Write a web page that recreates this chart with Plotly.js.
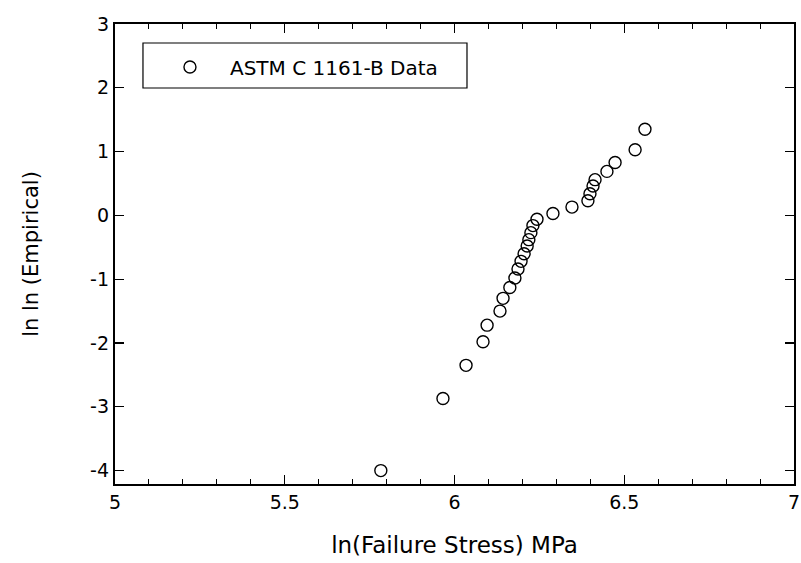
<!DOCTYPE html>
<html>
<head>
<meta charset="utf-8">
<script src="https://cdn.plot.ly/plotly-3.0.1.min.js"></script>
<style>html,body{margin:0;padding:0;background:#fff;}#chart{width:801px;height:563px;}</style>
</head>
<body>
<div id="chart"></div>
<script>
const seriesName = "ASTM C 1161-B Data";
const lnStress = [5.783, 5.966, 6.034, 6.084, 6.096, 6.134, 6.143, 6.163, 6.178, 6.187, 6.196, 6.205, 6.214, 6.219, 6.225, 6.231, 6.243, 6.290, 6.346, 6.393, 6.399, 6.408, 6.414, 6.449, 6.473, 6.532, 6.561];
const lnLnEmpirical = [-4.00, -2.87, -2.35, -1.98, -1.72, -1.50, -1.30, -1.13, -0.98, -0.84, -0.72, -0.60, -0.48, -0.38, -0.27, -0.16, -0.06, 0.03, 0.13, 0.23, 0.34, 0.46, 0.56, 0.69, 0.83, 1.03, 1.35];
const xTicks = [5, 5.5, 6, 6.5, 7];
const yTicks = [-4, -3, -2, -1, 0, 1, 2, 3];

const fam = "DejaVu Sans, Liberation Sans, Arial, sans-serif";
const f = (size) => ({family: fam, size: size, color: "#000"});

const trace = {
  type: "scatter",
  mode: "markers",
  name: seriesName,
  x: lnStress,
  y: lnLnEmpirical,
  marker: {symbol: "circle-open", size: 12, color: "#000", line: {width: 1.4, color: "#000"}},
  showlegend: true
};

const layout = {
  width: 801, height: 563,
  margin: {l: 115, r: 7, t: 24, b: 79},
  paper_bgcolor: "#fff", plot_bgcolor: "#fff",
  font: f(19),
  showlegend: true,
  legend: {
    x: 0.0515, y: 0.9065, xanchor: "left", yanchor: "middle",
    itemwidth: 70,
    borderwidth: 0, bgcolor: "rgba(0,0,0,0)",
    font: f(20)
  },
  shapes: [{
    type: "rect", xref: "paper", yref: "paper",
    x0: 0.0412, x1: 0.5184, y0: 0.8609, y1: 0.9587,
    line: {color: "#000", width: 1.2}, fillcolor: "#fff", layer: "below"
  }],
  xaxis: {
    range: [5, 7],
    tickvals: xTicks, ticktext: xTicks.map(String),
    ticks: "inside", ticklen: 9, tickwidth: 1.2, tickcolor: "#000",
    minor: {dtick: 0.1, ticks: "inside", ticklen: 5, tickwidth: 1, tickcolor: "#000"},
    showline: true, linewidth: 2.2, linecolor: "#000", mirror: "ticks",
    showgrid: false, zeroline: false,
    tickfont: f(19),
    title: {text: "ln(Failure Stress) MPa", font: f(23), standoff: 25}
  },
  yaxis: {
    range: [-4.21, 3.0],
    tickvals: yTicks, ticktext: yTicks.map(String),
    ticks: "inside", ticklen: 9, tickwidth: 1.2, tickcolor: "#000",
    showline: true, linewidth: 2.2, linecolor: "#000", mirror: "ticks",
    showgrid: false, zeroline: false,
    tickfont: f(19),
    title: {text: "ln ln (Empirical)", font: f(21), standoff: 46}
  }
};

Plotly.newPlot("chart", [trace], layout, {displayModeBar: false, staticPlot: true});
</script>
</body>
</html>
